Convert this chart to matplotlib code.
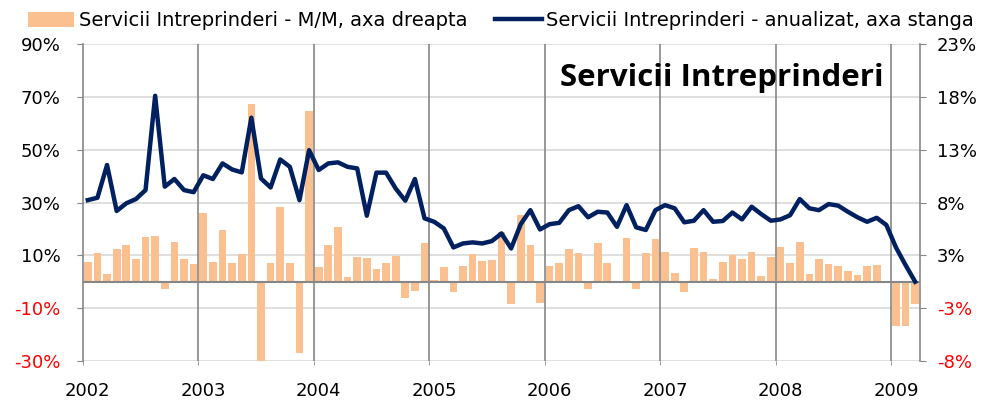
import matplotlib
matplotlib.use("Agg")
import matplotlib.pyplot as plt
from matplotlib.patches import Patch
from matplotlib.lines import Line2D

years = ["2002", "2003", "2004", "2005", "2006", "2007", "2008", "2009"]

# monthly change, % (right axis), Jan 2002 - Mar 2009
mm_values = [
    1.95, 2.77, 0.78, 3.19, 3.58, 2.2, 4.36, 4.46, -0.68, 3.88, 2.18, 1.69,
    6.74, 1.95, 5.05, 1.82, 2.7, 17.4, -8.0, 1.86, 7.3, 1.86, -7.0, 16.7,
    1.4, 3.58, 5.34, 0.46, 2.41, 2.35, 1.2, 1.79, 2.54, -1.6, -0.94, 3.78,
    0.2, 1.43, -1.0, 1.56, 2.67, 2.05, 2.12, 4.85, -2.2, 6.55, 3.55, -2.05,
    1.53, 1.86, 3.19, 2.83, -0.68, 3.75, 1.82, 0.0, 4.27, -0.68, 2.83, 4.17,
    2.9, 0.85, -1.0, 3.32, 2.9, 0.23, 1.89, 2.57, 2.25, 2.87, 0.59, 2.38,
    3.39, 1.79, 3.88, 0.75, 2.21, 1.69, 1.5, 1.07, 0.65, 1.5, 1.66, 0.0,
    -4.35, -4.35, -2.2,
]

# annualised, % (left axis)
annual_values = [
    30.9, 31.8, 44.2, 26.8, 29.7, 31.3, 34.7, 70.4, 36.0, 38.9, 34.7, 33.9,
    40.3, 38.9, 44.8, 42.5, 41.4, 62.1, 39.1, 35.7, 46.3, 43.5, 30.9, 49.8,
    42.3, 44.8, 45.2, 43.5, 42.9, 25.0, 41.3, 41.3, 35.3, 30.7, 38.9, 24.0,
    22.7, 20.2, 13.0, 14.5, 14.9, 14.5, 15.4, 18.3, 12.6, 21.8, 27.1, 19.8,
    21.8, 22.3, 27.1, 28.6, 24.4, 26.5, 26.2, 20.8, 29.0, 20.6, 19.6, 27.1,
    29.0, 27.8, 22.5, 23.1, 27.1, 22.7, 23.0, 26.2, 23.6, 28.4, 25.6, 23.1,
    23.6, 25.2, 31.3, 27.8, 27.1, 29.4, 28.8, 26.5, 24.4, 22.7, 24.2, 21.5,
    13.0, 6.3, 0.0,
]

left_ticks = [-30, -10, 10, 30, 50, 70, 90]

bar_color = "#FAC090"
line_color = "#002060"
grid_color = "#D9D9D9"
dark_grey = "#868686"

months = list(range(len(mm_values)))

fig = plt.figure(figsize=(9.86, 4.09), dpi=100)
ax = fig.add_axes([83 / 986, 1 - 361 / 409, 837 / 986, 317 / 409])
ax_r = ax.twinx()
ax.set_zorder(2)
ax.patch.set_visible(False)
ax_r.set_zorder(1)

scale = 31 / 120
ax.set_ylim(-30, 90)
ax_r.set_ylim(-30 * scale, 90 * scale)
ax.set_xlim(-0.5, len(months) - 0.5)

ax_r.bar(months, mm_values, width=0.8, color=bar_color, zorder=2)
ax.plot(months, annual_values, color=line_color, lw=3.2, solid_joinstyle="round", zorder=3)

# grid
for t in left_ticks:
    ax_r.axhline(t * scale, color=grid_color, lw=1.2, zorder=0)
for k in range(1, len(years)):
    ax_r.axvline(12 * k - 0.5, color=dark_grey, lw=1.2, zorder=1)
ax_r.axhline(0, color=dark_grey, lw=1.5, zorder=3)

for a in (ax, ax_r):
    for s in a.spines.values():
        s.set_visible(False)
for side in ("left", "right"):
    ax_r.spines[side].set_visible(True)
    ax_r.spines[side].set_color(dark_grey)
    ax_r.spines[side].set_linewidth(1.2)

tick_font = dict(family="DejaVu Sans", size=13)

ax.set_yticks(left_ticks)
ax.set_yticklabels([f"{t}%" for t in left_ticks], **tick_font)
for lab, t in zip(ax.get_yticklabels(), left_ticks):
    lab.set_color("red" if t < 0 else "black")
ax.tick_params(axis="y", length=4, color=dark_grey, pad=12)

right_ticks = [t * scale for t in left_ticks]
ax_r.set_yticks(right_ticks)
ax_r.set_yticklabels([f"{round(t):.0f}%" for t in right_ticks], **tick_font)
for lab, t in zip(ax_r.get_yticklabels(), right_ticks):
    lab.set_color("red" if t < 0 else "black")
ax_r.tick_params(axis="y", length=4, color=dark_grey, pad=8)

ax.set_xticks([12 * k for k in range(len(years))])
ax.set_xticklabels(years, **tick_font)
ax.tick_params(axis="x", length=0, pad=15)
ax.set_xticks([12 * k - 0.5 for k in range(len(years))], minor=True)
ax.tick_params(axis="x", which="minor", length=3, color=dark_grey)

ax.text(0.763, 0.893, "Servicii Intreprinderi", transform=ax.transAxes,
        ha="center", va="center", fontsize=22.5, fontweight="bold", family="Open Sans")

handles = [
    Patch(facecolor=bar_color, edgecolor="none"),
    Line2D([0], [0], color=line_color, lw=3.2),
]
labels = ["Servicii Intreprinderi - M/M, axa dreapta",
          "Servicii Intreprinderi - anualizat, axa stanga"]
fig.legend(handles, labels, loc="upper center", bbox_to_anchor=(0.508, 1.015),
           ncol=2, frameon=False, prop=dict(family="DejaVu Sans", size=14),
           handlelength=2.4, handleheight=0.75, handletextpad=0.25,
           columnspacing=1.4)

fig.savefig("out.png", dpi=100)
